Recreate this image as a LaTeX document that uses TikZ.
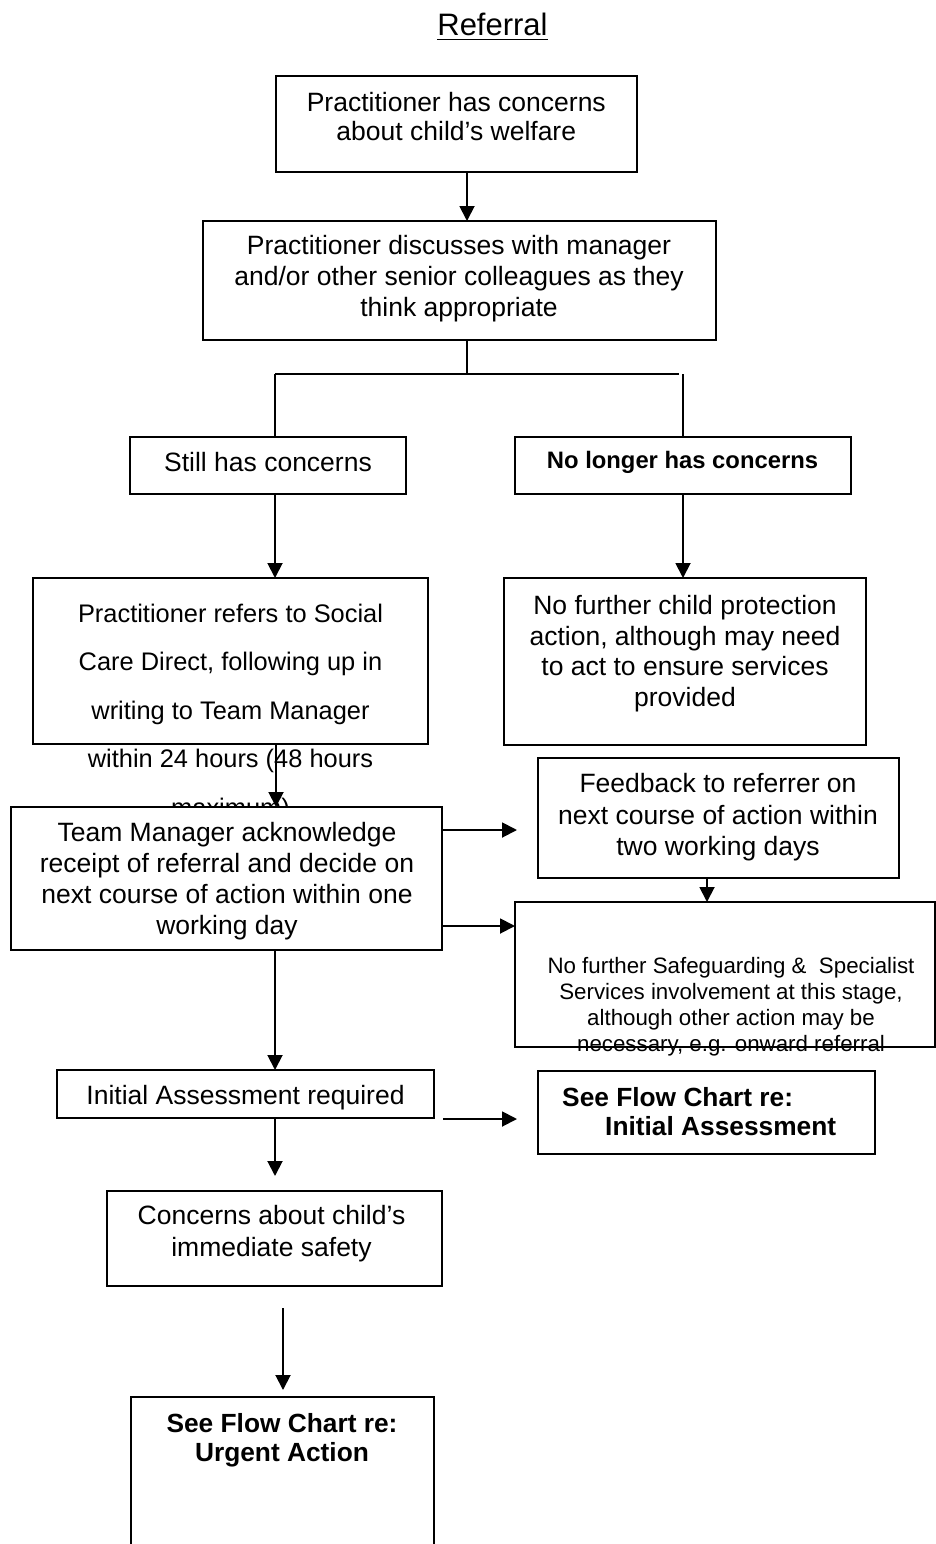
\documentclass[tikz,border=0pt]{standalone}
\usepackage{fontspec}
\setmainfont{Liberation Sans}
\usetikzlibrary{arrows.meta}
\tikzset{
  box/.style={draw, line width=1.9pt, fill=white, inner sep=0pt, outer sep=0pt},
  ln/.style={line width=1.9pt},
  arr/.style={line width=1.9pt, -{Triangle[length=15pt,width=15pt]}},
  txt/.style={inner sep=0pt, align=center, font=\fontsize{26.5}{31}\selectfont},
  boldtxt/.style={inner sep=0pt, align=center, font=\fontsize{26.3}{29}\selectfont\bfseries},
}
\begin{document}
\begin{tikzpicture}[x=1pt,y=-1pt]
\useasboundingbox (0,0) rectangle (936,1544);
\clip (0,0) rectangle (936,1544);

% heading
\node[inner sep=0pt, anchor=base, font=\fontsize{31}{36}\selectfont] (title) at (492.5,36) {Referral};
\draw[line width=1.7pt] ([yshift=-3.5pt]title.base west) -- ([yshift=-3.5pt]title.base east);

% first concern and discussion
\node[box, minimum width=361pt, minimum height=96pt] (b1) at (456.5,124) {};
\node[txt, font=\fontsize{26.5}{29}\selectfont] (b1t) at (456.3,116.5) {Practitioner has concerns\\about child’s welfare};
\node[box, minimum width=513pt, minimum height=119pt] (b2) at (459.5,280.5) {};
\node[txt] (b2t) at (459,279) {Practitioner discusses with manager\\and/or other senior colleagues as they\\think appropriate};

% the two outcomes
\node[box, minimum width=276pt, minimum height=57pt] (still) at (268,465.5) {};
\node[txt] (stillt) at (268,462) {Still has concerns};
\node[box, minimum width=336pt, minimum height=57pt] (nolonger) at (683,465.5) {};
\node[inner sep=0pt, font=\fontsize{23.8}{28}\selectfont\bfseries] (nolongert) at (682.5,462.4) {No longer has concerns};

% referral to Social Care Direct
\node[box, minimum width=395pt, minimum height=166pt] (refers) at (230.5,661) {};
\node[txt, font=\fontsize{25.4}{48.5}\selectfont] (referst) at (230.5,712.7) {Practitioner refers to Social\\Care Direct, following up in\\writing to Team Manager\\within 24 hours (48 hours\\maximum)};
\node[box, minimum width=362pt, minimum height=167pt] (nochild) at (685,661.5) {};
\node[txt, font=\fontsize{26.5}{30.7}\selectfont] (nochildt) at (685,653.7) {No further child protection\\action, although may need\\to act to ensure services\\provided};

% feedback
\node[box, minimum width=361pt, minimum height=120pt] (feedback) at (718.5,818) {};
\node[txt, font=\fontsize{26.5}{31.5}\selectfont] (feedbackt) at (718,817.2) {Feedback to referrer on\\next course of action within\\two working days};

% team manager decision
\node[box, minimum width=431pt, minimum height=143pt] (tm) at (226.5,878.5) {};
\node[txt] (tmt) at (227,881.2) {Team Manager acknowledge\\receipt of referral and decide on\\next course of action within one\\working day};
\node[box, minimum width=420pt, minimum height=145pt] (nofurther) at (725,974.5) {};
\node[txt, font=\fontsize{22.3}{26}\selectfont] (nofurthert) at (731,1006.5) {No further Safeguarding \&\ \ Specialist\\Services involvement at this stage,\\although other action may be\\necessary, e.g. onward referral};

% initial assessment
\node[box, minimum width=377pt, minimum height=48pt] (iareq) at (245.5,1094) {};
\node[txt] (iareqt) at (245.5,1097.6) {Initial Assessment required};
\node[box, minimum width=337pt, minimum height=83pt] (seeia) at (706.5,1112.5) {};
\node[inner sep=0pt, anchor=base west, font=\fontsize{26.3}{29}\selectfont\bfseries] (seeiat) at (562,1106.7) {See Flow Chart re:};
\node[inner sep=0pt, anchor=base west, font=\fontsize{26.3}{29}\selectfont\bfseries] (seeiau) at (605,1135) {Initial Assessment};

% immediate safety
\node[box, minimum width=335pt, minimum height=95pt] (concerns) at (274.5,1238.5) {};
\node[txt, font=\fontsize{26.5}{32}\selectfont] (concernst) at (271.5,1233.7) {Concerns about child’s\\immediate safety};
\node[box, minimum width=303pt, minimum height=163pt] (urgent) at (282.5,1478.5) {};
\node[boldtxt] (urgentt) at (282,1440.4) {See Flow Chart re:\\Urgent Action};

% free ends of connectors
\coordinate (split) at (467,374);
\coordinate (splitL) at (275,374);
\coordinate (splitR) at (679,374);
\coordinate (splitRR) at (683,374);
\coordinate (fbin) at (517,830);
\coordinate (iaout) at (443,1119);
\coordinate (iain) at (517,1119);
\coordinate (safein) at (275,1176);
\coordinate (urgout) at (283,1308);
\coordinate (urgin) at (283,1390);

% connectors
\draw[arr] (467,0 |- b1.south) -- (467,0 |- b2.north);
\draw[ln] (467,0 |- b2.south) -- (split);
\draw[ln] (splitL) -- (splitR);
\draw[ln] (splitL) -- (275,0 |- still.north);
\draw[ln] (splitRR) -- (683,0 |- nolonger.north);
\draw[arr] (275,0 |- still.south) -- (275,0 |- refers.north);
\draw[arr] (683,0 |- nolonger.south) -- (683,0 |- nochild.north);
\draw[arr] (276,0 |- refers.south) -- (276,0 |- tm.north);
\draw[arr] (tm.east |- fbin) -- (fbin);
\draw[arr] (tm.east |- 0,926) -- (nofurther.west |- 0,926);
\draw[arr] (707,0 |- feedback.south) -- (707,0 |- nofurther.north);
\draw[arr] (275,0 |- tm.south) -- (275,0 |- iareq.north);
\draw[arr] (iaout) -- (iain);
\draw[arr] (275,0 |- iareq.south) -- (safein);
\draw[arr] (urgout) -- (urgin);
\end{tikzpicture}
\end{document}
